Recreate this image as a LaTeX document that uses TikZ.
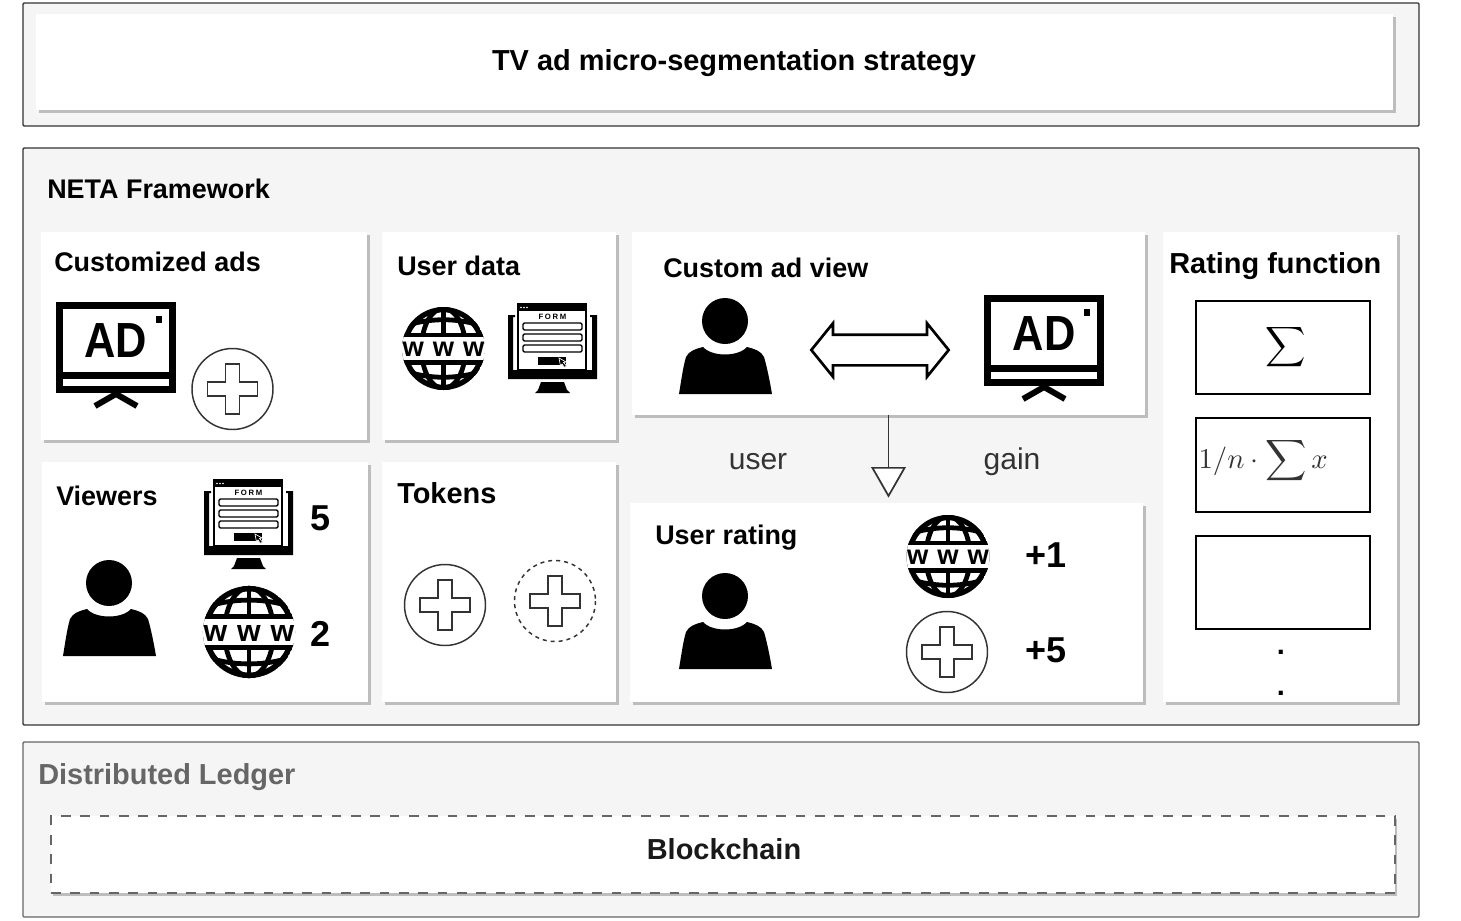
\documentclass[tikz,border=0pt]{standalone}
\usepackage{amsmath}
\usepackage{fontspec}
\setmainfont{Liberation Sans}
\newfontfamily\formfont[LetterSpace=22]{Liberation Sans}
\usetikzlibrary{arrows.meta,shadows,shapes.arrows}
\definecolor{panelgrey}{HTML}{F5F5F5}
\definecolor{rimdark}{HTML}{333333}
\definecolor{rimgrey}{HTML}{666666}
\definecolor{shadegrey}{HTML}{BDBDBD}
\tikzset{sized/.style 2 args={minimum width=#1*0.75pt, minimum height=#2*0.75pt, inner sep=0pt, outer sep=0pt}}
\tikzset{panel/.style={draw=rimdark, fill=panelgrey, line width=1pt, rounded corners=0.8pt}}
\tikzset{ledgerpanel/.style={draw=rimgrey, fill=panelgrey, line width=1pt, rounded corners=0.8pt}}
\tikzset{card/.style={fill=white, drop shadow={shadow xshift=2.3pt, shadow yshift=-2.3pt, fill=shadegrey, opacity=1}}}
\tikzset{dashcard/.style={fill=white, draw=rimgrey, line width=2pt, dash pattern=on 7.3pt off 7.2pt, drop shadow={shadow xshift=1.4pt, shadow yshift=-2.2pt, fill=shadegrey, opacity=1}}}
\tikzset{fnbox/.style={draw=black, fill=white, line width=2pt}}
\tikzset{headtxt/.style={anchor=base west, inner sep=0pt, font=\fontsize{20.2}{25}\selectfont\bfseries}}
\tikzset{bighead/.style={anchor=base west, inner sep=0pt, font=\fontsize{21.7}{25}\selectfont\bfseries}}
\tikzset{midtxt/.style={anchor=base, inner sep=0pt, font=\fontsize{21.7}{25}\selectfont\bfseries}}
\tikzset{plaintxt/.style={anchor=base, inner sep=0pt, text=rimdark, font=\fontsize{22.5}{25}\selectfont}}
\tikzset{numtxt/.style={anchor=base, inner sep=0pt, font=\fontsize{27}{30}\selectfont\bfseries}}
\tikzset{
  pics/adtv/.style={code={
      \fill (0,0) rectangle (120,91);
      \fill[white] (7,7) rectangle (113,70);
      \fill[white] (7,77) rectangle (113,84);
      \fill (100,14) rectangle (106,21);
      \draw[line width=4.5pt] (39,104) -- (60,92) -- (81,104);
      \node[transform shape, inner sep=0pt, xscale=0.88, font=\fontsize{37}{40}\selectfont\bfseries] (-txt) at (60,39) {AD};
  }},
  pics/globe/.style={code={
      \begin{scope}
        \clip (0,0) circle (41.5);
        \draw[line width=4.2pt] (0,0) circle (39);
        \draw[line width=3.6pt] (0,-42) -- (0,42);
        \draw[line width=3.6pt] (0,0) ellipse (22 and 40);
        \draw[line width=3.6pt] (-40,-22) .. controls (-15,-31) and (15,-31) .. (40,-22);
        \draw[line width=3.6pt] (-40,22) .. controls (-15,31) and (15,31) .. (40,22);
        \fill (-42,-16) rectangle (42,-11.5);
        \fill (-42,11.5) rectangle (42,16);
        \fill[white] (-42,-11.5) rectangle (42,11.5);
      \end{scope}
      \node[transform shape, inner sep=0pt, font=\fontsize{20.5}{22}\selectfont\bfseries] (-txt) at (0,1) {w\hskip 6.7pt w\hskip 6.7pt w};
  }},
  pics/formpc/.style={code={
      \fill (0,11) -- (7,11) -- (7,13) -- (5,13) -- (5,66) -- (84,66) -- (84,13) -- (82,13) -- (82,11) -- (89,11) -- (89,75) -- (0,75) -- cycle;
      \fill (33,78) -- (56,78) -- (59,86) -- (62,89) -- (27,89) -- (30,86) -- cycle;
      \draw[line width=1.2pt, fill=white] (10,0) rectangle (78,66);
      \fill (10,0) rectangle (78,7);
      \foreach \dotx in {13,16,19} \fill[white] (\dotx,3.5) circle (0.8);
      \node[inner sep=0pt, font=\fontsize{5.8}{6}\formfont\bfseries] (-txt) at (44.5,12.5) {FORM};
      \foreach \fieldy in {19,30,41} \draw[line width=1pt, fill=white, rounded corners=1pt] (15,\fieldy) rectangle (74,\fieldy+7);
      \fill (30,53) rectangle (58,61);
      \draw[white, fill=black, line width=0.5pt] (51,54) -- (58,58) -- (55.5,58.5) -- (58.5,62) -- (56.5,63.5) -- (54,60) -- (52.5,62) -- cycle;
  }},
  pics/person/.style={code={
      \fill (46,24) circle (23);
      \fill (24,50) .. controls (33,60) and (59,60) .. (68,50) .. controls (76,52) and (82,54) .. (85,60) .. controls (88,70) and (91,85) .. (93,97) -- (0,97) .. controls (2,85) and (4,70) .. (7,60) .. controls (10,54) and (16,52) .. (24,50) -- cycle;
  }},
  pics/token/.style={code={
      \draw[draw=rimdark, line width=1.1pt, #1] (0,0) circle (40.5);
      \draw[draw=rimdark, line width=1.1pt] (-7,-25) -- (7,-25) -- (7,-7) -- (25,-7) -- (25,7) -- (7,7) -- (7,25) -- (-7,25) -- (-7,7) -- (-25,7) -- (-25,-7) -- (-7,-7) -- cycle;
  }},
  pics/token/.default={}
}

\begin{document}
\begin{tikzpicture}[x=0.75pt, y=-0.75pt]
        \useasboundingbox (0,0) rectangle (1461,921);

        % three layers
        \node[panel, sized={1396}{123}] (Pstrategy) at (721,64.5) {};
        \node[panel, sized={1396}{577}] (Pneta) at (721,436.5) {};
        \node[ledgerpanel, sized={1396}{175}] (Pledger) at (721,829.5) {};

        \node[card, sized={1357}{96}] (Cstrategy) at (714.5,62) {};
        \node[midtxt] (Tstrategy) at (734,70) {TV ad micro-segmentation strategy};
        \node[headtxt] (Tneta) at (47,198) {NETA Framework};
        \node[bighead, text=rimgrey] (Tledger) at (38,784) {Distributed Ledger};
        \node[dashcard, sized={1344}{77}] (Cchain) at (723,854.5) {};
        \node[midtxt, text=black!90] (Tchain) at (724,859) {Blockchain};

        \node[card, sized={326}{208}] (Cads) at (204,336) {};
        \node[card, sized={234}{208}] (Cdata) at (499,336) {};
        \node[card, sized={513}{183}] (Cview) at (888.5,323.5) {};
        \node[card, sized={234}{470}] (Cfn) at (1280,467) {};
        \node[card, sized={326}{240}] (Cviewers) at (205,582) {};
        \node[card, sized={234}{240}] (Ctokens) at (499,582) {};
        \node[card, sized={513}{199}] (Crating) at (886.5,602.5) {};

        \node[headtxt] (Tads) at (54,271) {Customized ads};
        \pic (tvads) at (56,302) {adtv};
        \pic (tokads) at (232.5,389) {token};

        \node[headtxt] (Tdata) at (397,275) {User data};
        \pic (webdata) at (443.5,348.5) {globe};
        \pic (formdata) at (508,304) {formpc};

        \node[headtxt] (Tview) at (663,277) {Custom ad view};
        \pic (manview) at (679,297) {person};
        \node[draw=black, fill=white, line width=2pt, double arrow, inner xsep=0pt, inner ysep=10.5pt, outer sep=0pt, minimum height=103pt, double arrow head extend=8.5pt, double arrow tip angle=102] (Aswap) at (880,350) {};
        \pic (tvview) at (984,295) {adtv};

        \node[bighead] (Tfn) at (1169,273) {Rating function};
        \node[fnbox, sized={174}{93}] (Fsum) at (1283,347.5) {};
        \node[fnbox, sized={174}{94}] (Favg) at (1283,465) {};
        \node[fnbox, sized={174}{93}] (Fnone) at (1283,582.5) {};
        \node[scale=2.1, inner sep=0pt] (Msum) at (1286,347) {$\displaystyle\sum$};
        \node[scale=2.15, inner sep=0pt, anchor=west, text=rimdark] (Mavg) at (1198,461) {$1/n\cdot\displaystyle\sum x$};
        \node[midtxt] (Tdota) at (1281,654) {.};
        \node[midtxt] (Tdotb) at (1281,695) {.};

        \node[headtxt] (Tviewers) at (56,505) {Viewers};
        \pic (manviewers) at (63,559) {person};
        \pic (formviewers) at (204,480) {formpc};
        \pic[scale=1.11] (webviewers) at (249,632) {globe};
        \node[numtxt] (Nforms) at (321,530) {5};
        \node[numtxt] (Nwebs) at (321,646) {2};

        \node[bighead] (Ttokens) at (397,503) {Tokens};
        \pic (toka) at (445,605) {token};
        \pic (tokb) at (555,601) {token={dashed}};

        \node[headtxt] (Trating) at (655,544) {User rating};
        \pic (manrating) at (679,572) {person};
        \pic (webrating) at (948,556.5) {globe};
        \pic (tokrating) at (947,652) {token};
        \node[numtxt] (Nplusa) at (1046,567) {+1};
        \node[numtxt] (Nplusb) at (1046,662) {+5};

        \node[plaintxt] (Tuser) at (758,469) {user};
        \node[plaintxt] (Tgain) at (1012,469) {gain};
        \draw[draw=rimdark, line width=1.3pt, shorten >=4pt, -{Triangle[open, fill=white, length=23pt, width=26pt]}] (Cview.south) -- (Cview.south |- Crating.north);
\end{tikzpicture}
\end{document}
